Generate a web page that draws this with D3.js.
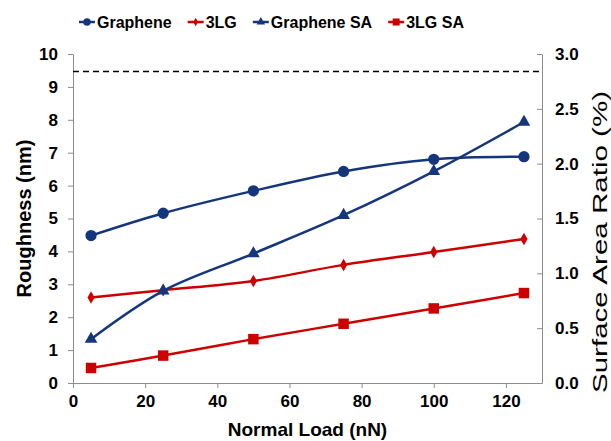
<!DOCTYPE html>
<html lang="en">
<head>
<meta charset="UTF-8">
<title>Roughness vs Normal Load</title>
<style>
  html, body { margin: 0; padding: 0; background: #fff; }
  svg { display: block; font-family: "Liberation Sans", Arial, sans-serif; }
  .tick text { font-weight: bold; font-size: 17px; fill: #000; }
  .axis path, .axis line { stroke: #8c8c8c; }
</style>
</head>
<body>
<svg id="chart" width="611" height="441"></svg>
<script src="https://cdn.jsdelivr.net/npm/d3@7"></script>
<script>
// data
const loads = [5, 25, 50, 75, 100, 125];
const graphene = [4.48, 5.16, 5.84, 6.43, 6.80, 6.88];      // nm
const tlg = [2.60, 2.82, 3.10, 3.59, 3.98, 4.38];           // nm
const grapheneSA = [0.40, 0.84, 1.18, 1.53, 1.93, 2.38];    // %
const tlgSA = [0.137, 0.25, 0.40, 0.54, 0.68, 0.82];        // %
const refLine = 9.47;                                        // dashed line, nm
const xTicks = [0, 20, 40, 60, 80, 100, 120];
const yTicks = [0, 1, 2, 3, 4, 5, 6, 7, 8, 9, 10];
const y2Ticks = [0, 0.5, 1.0, 1.5, 2.0, 2.5, 3.0];

const navy = '#15367a', red = '#cc0000';

const svg = d3.select('#chart');
const m = { left: 73, right: 542, top: 54, bottom: 383 };

const x = d3.scaleLinear().domain([0, 130]).range([m.left, m.right]);
const y = d3.scaleLinear().domain([0, 10]).range([m.bottom, m.top]);
const y2 = d3.scaleLinear().domain([0, 3]).range([m.bottom, m.top]);

// axes
svg.append('g').attr('class', 'axis')
  .attr('transform', `translate(0,${m.bottom})`)
  .call(d3.axisBottom(x).tickValues(xTicks).tickSize(5).tickSizeOuter(0).tickPadding(7));

svg.append('g').attr('class', 'axis')
  .attr('transform', `translate(${m.left},0)`)
  .call(d3.axisLeft(y).tickValues(yTicks).tickSize(5).tickSizeOuter(0).tickPadding(10));

svg.append('g').attr('class', 'axis')
  .attr('transform', `translate(${m.right},0)`)
  .call(d3.axisRight(y2).tickValues(y2Ticks).tickFormat(d3.format('.1f')).tickSize(-5).tickSizeOuter(0).tickPadding(13));

// dashed reference line
svg.append('line')
  .attr('x1', m.left).attr('x2', m.right)
  .attr('y1', y(refLine)).attr('y2', y(refLine))
  .attr('stroke', '#000').attr('stroke-width', 1.5)
  .attr('stroke-dasharray', '6,4');

// series
const series = [
  { name: 'Graphene', vals: graphene, scale: y, color: navy, sym: d3.symbolCircle, size: 100 },
  { name: '3LG', vals: tlg, scale: y, color: red, sym: d3.symbolDiamond, size: 45 },
  { name: 'Graphene SA', vals: grapheneSA, scale: y2, color: navy, sym: d3.symbolTriangle, size: 70 },
  { name: '3LG SA', vals: tlgSA, scale: y2, color: red, sym: d3.symbolSquare, size: 110 }
];

const line = d3.line().curve(d3.curveCatmullRom.alpha(0.5));

series.forEach(s => {
  const pts = loads.map((l, i) => [x(l), s.scale(s.vals[i])]);
  svg.append('path')
    .attr('d', line(pts))
    .attr('fill', 'none')
    .attr('stroke', s.color)
    .attr('stroke-width', 2.5);
  svg.append('g').selectAll('path').data(pts).join('path')
    .attr('transform', d => `translate(${d[0]},${d[1]})`)
    .attr('d', d3.symbol().type(s.sym).size(s.size))
    .attr('fill', s.color);
});

// legend
let lx = 79;
const ly = 22;
series.forEach(s => {
  const g = svg.append('g').attr('transform', `translate(${lx},${ly})`);
  g.append('line').attr('x1', 0).attr('x2', 16).attr('stroke', s.color).attr('stroke-width', 2.5);
  g.append('path').attr('transform', 'translate(8,0)')
    .attr('d', d3.symbol().type(s.sym).size(s.size * 0.45))
    .attr('fill', s.color);
  const t = g.append('text').attr('x', 18).attr('y', 6)
    .attr('font-size', 16).attr('font-weight', 'bold').text(s.name);
  lx += 18 + t.node().getComputedTextLength() + 16;
});

// axis titles
svg.append('text')
  .attr('x', (m.left + m.right) / 2).attr('y', 436)
  .attr('text-anchor', 'middle')
  .attr('font-size', 19).attr('font-weight', 'bold')
  .text('Normal Load (nN)');

svg.append('text')
  .attr('transform', `translate(31,${(m.top + m.bottom) / 2}) rotate(-90)`)
  .attr('text-anchor', 'middle')
  .attr('font-size', 20).attr('font-weight', 'bold')
  .text('Roughness (nm)');

svg.append('text')
  .attr('transform', `translate(600,242) rotate(-90)`)
  .attr('text-anchor', 'middle')
  .attr('dy', '0.35em')
  .attr('font-size', 20)
  .attr('textLength', 302).attr('lengthAdjust', 'spacingAndGlyphs')
  .text('Surface Area Ratio (%)');
</script>
</body>
</html>
